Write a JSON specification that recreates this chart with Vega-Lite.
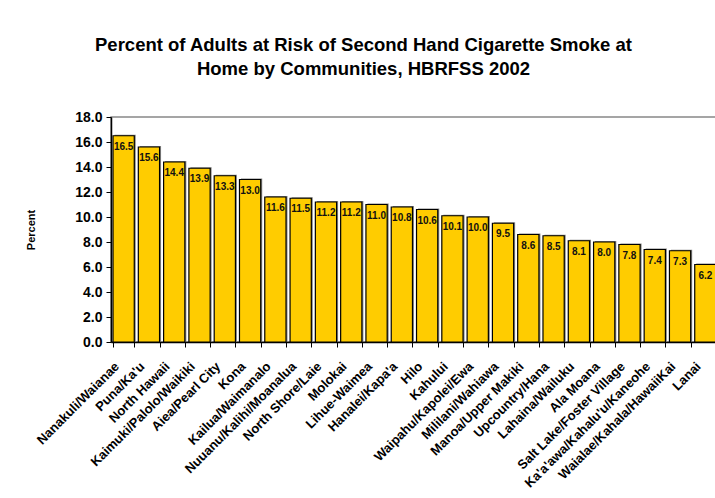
{
  "$schema": "https://vega.github.io/schema/vega-lite/v6.json",
  "width": 607,
  "height": 225,
  "autosize": {"type": "none"},
  "padding": {"left": 111, "top": 117, "right": 0, "bottom": 156},
  "background": "white",
  "title": {
    "text": ["Percent of Adults at Risk of Second Hand Cigarette Smoke at", "Home by Communities, HBRFSS 2002"],
    "font": "Liberation Sans",
    "fontSize": 18.5,
    "fontWeight": "bold",
    "color": "#000000",
    "lineHeight": 23.5,
    "anchor": "middle",
    "dx": -51,
    "offset": 32
  },
  "config": {
    "view": {"stroke": "#888888", "strokeWidth": 1.5},
    "font": "Liberation Sans"
  },
  "data": {
    "values": [
      {"community": "Nanakuli/Waianae", "pct": 16.5},
      {"community": "Puna/Ka'u", "pct": 15.6},
      {"community": "North Hawaii", "pct": 14.4},
      {"community": "Kaimuki/Palolo/Waikiki", "pct": 13.9},
      {"community": "Aiea/Pearl City", "pct": 13.3},
      {"community": "Kona", "pct": 13.0},
      {"community": "Kailua/Waimanalo", "pct": 11.6},
      {"community": "Nuuanu/Kalihi/Moanalua", "pct": 11.5},
      {"community": "North Shore/Laie", "pct": 11.2},
      {"community": "Molokai", "pct": 11.2},
      {"community": "Lihue-Waimea", "pct": 11.0},
      {"community": "Hanalei/Kapa'a", "pct": 10.8},
      {"community": "Hilo", "pct": 10.6},
      {"community": "Kahului", "pct": 10.1},
      {"community": "Waipahu/Kapolei/Ewa", "pct": 10.0},
      {"community": "Mililani/Wahiawa", "pct": 9.5},
      {"community": "Manoa/Upper Makiki", "pct": 8.6},
      {"community": "Upcountry/Hana", "pct": 8.5},
      {"community": "Lahaina/Wailuku", "pct": 8.1},
      {"community": "Ala Moana", "pct": 8.0},
      {"community": "Salt Lake/Foster Village", "pct": 7.8},
      {"community": "Ka'a'awa/Kahalu'u/Kaneohe", "pct": 7.4},
      {"community": "Waialae/Kahala/HawaiiKai", "pct": 7.3},
      {"community": "Lanai", "pct": 6.2}
    ]
  },
  "encoding": {
    "x": {
      "field": "community",
      "type": "nominal",
      "sort": null,
      "scale": {"paddingInner": 0.16, "paddingOuter": 0.08},
      "axis": {
        "title": null,
        "labelAngle": -45,
        "labelAlign": "right",
        "labelBaseline": "middle",
        "labelFont": "Liberation Sans",
        "labelFontSize": 13,
        "labelFontWeight": "bold",
        "labelColor": "#000000",
        "labelPadding": 17,
        "labelOffset": -7,
        "tickBand": "extent",
        "tickColor": "#000000",
        "tickSize": 5,
        "domainColor": "#000000",
        "domainWidth": 1.5,
        "labelOverlap": false,
        "labelLimit": 300
      }
    },
    "y": {
      "field": "pct",
      "type": "quantitative",
      "scale": {"domain": [0, 18], "nice": false},
      "axis": {
        "title": "Percent",
        "titleFont": "Liberation Sans",
        "titleFontSize": 11,
        "titleFontWeight": "bold",
        "titleColor": "#000000",
        "titlePadding": 38,
        "values": [0, 2, 4, 6, 8, 10, 12, 14, 16, 18],
        "format": ".1f",
        "labelFont": "Liberation Sans",
        "labelFontSize": 14,
        "labelFontWeight": "bold",
        "labelColor": "#000000",
        "labelPadding": 4,
        "tickColor": "#000000",
        "tickSize": 5,
        "domainColor": "#000000",
        "domainWidth": 1.5,
        "grid": false
      }
    }
  },
  "layer": [
    {
      "mark": {"type": "bar", "color": "#888888", "xOffset": 1.5, "yOffset": -1}
    },
    {
      "mark": {"type": "bar", "color": "#FFCC00", "stroke": "#000000", "strokeWidth": 1.2}
    },
    {
      "mark": {"type": "text", "font": "Liberation Sans", "fontSize": 10, "fontWeight": "bold", "color": "#111111", "baseline": "middle", "dy": 11},
      "encoding": {"text": {"field": "pct", "type": "quantitative", "format": ".1f"}}
    }
  ]
}
